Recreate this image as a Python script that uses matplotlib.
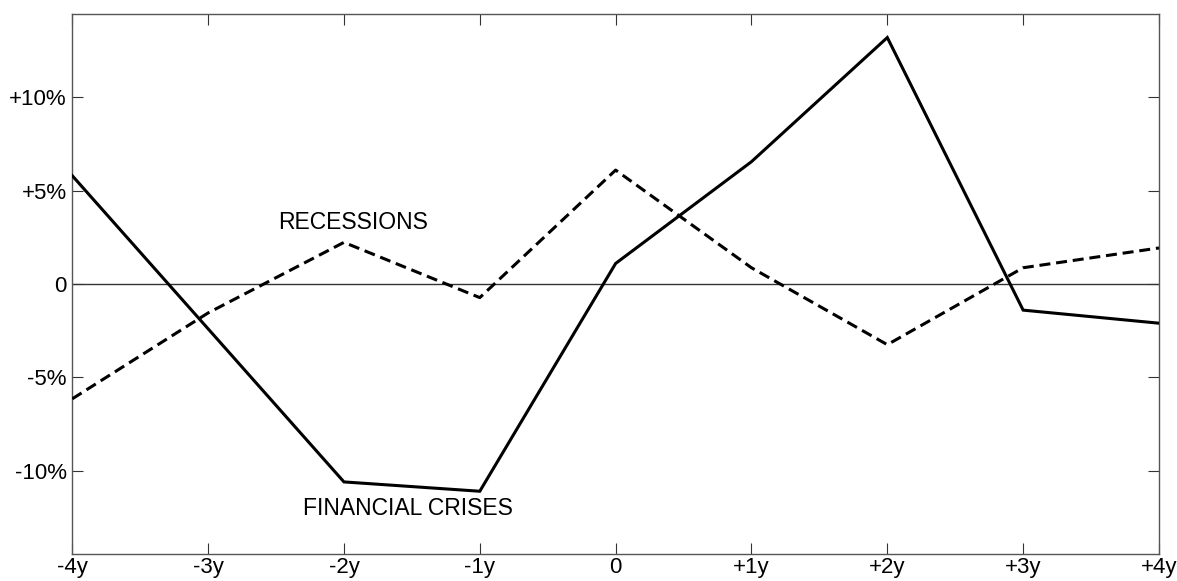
import matplotlib
matplotlib.use("Agg")
import matplotlib.pyplot as plt

plt.rcParams["font.family"] = ["Liberation Sans", "DejaVu Sans"]

# years around the event, and % change
years = [-4, -3, -2, -1, 0, 1, 2, 3, 4]
x_labels = ["-4y", "-3y", "-2y", "-1y", "0", "+1y", "+2y", "+3y", "+4y"]
financial_crises = [5.8, -2.4, -10.6, -11.1, 1.1, 6.55, 13.2, -1.4, -2.1]
recessions = [-6.15, -1.55, 2.23, -0.73, 6.1, 0.87, -3.25, 0.87, 1.93]
y_ticks = [-10, -5, 0, 5, 10]
y_labels = ["-10%", "-5%", "0", "+5%", "+10%"]

fig = plt.figure(figsize=(11.77, 5.81), dpi=100)
ax = fig.add_axes([0.0614, 0.0465, 0.9233, 0.9294])

ax.axhline(0, color="#333333", lw=1.0, zorder=1)
ax.plot(years, financial_crises, color="black", lw=2.2,
        solid_joinstyle="miter", zorder=3)
ax.plot(years, recessions, color="black", lw=2.2,
        linestyle=(0, (3.6, 1.9)), zorder=3)

ax.text(-1.93, 3.27, "RECESSIONS", ha="center", va="center", fontsize=16.5)
ax.text(-1.53, -12.0, "FINANCIAL CRISES", ha="center", va="center", fontsize=16.5)

ax.set_xlim(-4, 4)
ax.set_ylim(-14.46, 14.46)
ax.set_xticks(years)
ax.set_xticklabels(x_labels)
ax.set_yticks(y_ticks)
ax.set_yticklabels(y_labels)
ax.tick_params(direction="in", length=8, width=0.8, labelsize=16,
               top=True, right=True, color="#333333")
ax.tick_params(axis="x", pad=2)
ax.tick_params(axis="y", pad=4)

for sp in ax.spines.values():
    sp.set_color("#555555")
    sp.set_linewidth(1.0)

fig.savefig("out.png", dpi=100)
